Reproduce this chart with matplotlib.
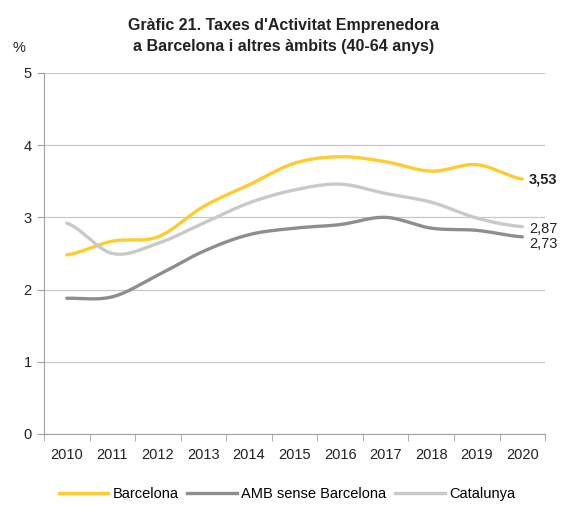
import matplotlib
matplotlib.use("Agg")
import matplotlib.pyplot as plt
from matplotlib.lines import Line2D
import numpy as np

plt.rcParams["font.family"] = ["Liberation Sans", "DejaVu Sans"]

years = ["2010", "2011", "2012", "2013", "2014", "2015", "2016", "2017", "2018", "2019", "2020"]
barcelona = [2.48, 2.67, 2.73, 3.15, 3.45, 3.75, 3.84, 3.77, 3.64, 3.73, 3.53]
amb = [1.88, 1.90, 2.20, 2.53, 2.76, 2.85, 2.90, 3.00, 2.85, 2.82, 2.73]
catalunya = [2.92, 2.50, 2.64, 2.92, 3.20, 3.38, 3.46, 3.33, 3.21, 2.99, 2.87]
labels = ["Barcelona", "AMB sense Barcelona", "Catalunya"]
colors = ["#FFCB2E", "#8E8E90", "#C9C9C9"]


def smooth(xs, ys, n=30):
    # catmull-rom style smoothing, like the spreadsheet's smoothed lines
    xs = np.asarray(xs, float)
    ys = np.asarray(ys, float)
    px = np.concatenate([[2 * xs[0] - xs[1]], xs, [2 * xs[-1] - xs[-2]]])
    py = np.concatenate([[ys[0]], ys, [ys[-1]]])
    out_x, out_y = [], []
    t = np.linspace(0, 1, n, endpoint=False)
    for i in range(1, len(px) - 2):
        for p, o in ((px, out_x), (py, out_y)):
            p0, p1, p2, p3 = p[i - 1], p[i], p[i + 1], p[i + 2]
            o.extend(0.5 * (2 * p1 + (-p0 + p2) * t
                            + (2 * p0 - 5 * p1 + 4 * p2 - p3) * t ** 2
                            + (-p0 + 3 * p1 - 3 * p2 + p3) * t ** 3))
    out_x.append(xs[-1])
    out_y.append(ys[-1])
    return np.array(out_x), np.array(out_y)


fig = plt.figure(figsize=(5.74, 5.05), dpi=100)
ax = fig.add_axes([0.0767, 0.1406, 0.873, 0.715])

x = np.arange(len(years))
for series, color in zip([barcelona, amb, catalunya], colors):
    sx, sy = smooth(x, series)
    ax.plot(sx, sy, color=color, lw=2.4, solid_capstyle="round")

ax.set_xlim(-0.5, len(years) - 0.5)
ax.set_ylim(0, 5)
ax.set_yticks(range(6))
ax.set_xticks(x)
ax.set_xticklabels(years)
ax.set_xticks(np.arange(-0.5, len(years)), minor=True)
ax.tick_params(axis="x", which="major", length=0, pad=10, labelsize=10.5, colors="#222222")
ax.tick_params(axis="x", which="minor", length=5, color="#A0A0A0")
ax.tick_params(axis="y", length=5, color="#A0A0A0", labelsize=10.5, colors="#222222", pad=4)
ax.grid(axis="y", color="#C8C8C8", lw=0.9)
ax.set_axisbelow(True)
for side in ["top", "right"]:
    ax.spines[side].set_visible(False)
for side in ["left", "bottom"]:
    ax.spines[side].set_color("#A0A0A0")

ax.text(x[-1] + 0.15, barcelona[-1] - 0.01, "3,53", fontsize=10.5, fontweight="bold",
        va="center", ha="left", color="#222222", clip_on=False)
ax.text(x[-1] + 0.15, catalunya[-1] - 0.03, "2,87", fontsize=10.5,
        va="center", ha="left", color="#222222", clip_on=False)
ax.text(x[-1] + 0.15, amb[-1] - 0.10, "2,73", fontsize=10.5,
        va="center", ha="left", color="#222222", clip_on=False)

fig.text(0.494, 0.929, "Gràfic 21. Taxes d'Activitat Emprenedora\na Barcelona i altres àmbits (40-64 anys)",
         ha="center", va="center", fontsize=11.5, fontweight="bold", color="#222222", linespacing=1.45)
fig.text(0.022, 0.905, "%", fontsize=10.5, color="#222222", va="center")

handles = [Line2D([0], [0], color=c, lw=2.4) for c in colors]
fig.legend(handles, labels, loc="center", bbox_to_anchor=(0.5, 0.022), ncol=3, frameon=False,
           fontsize=10.5, handlelength=3.4, handletextpad=0.3, columnspacing=0.6)

fig.savefig("out.png", dpi=100)
